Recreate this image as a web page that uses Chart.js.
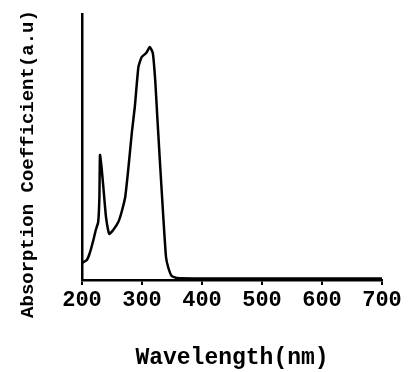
<!DOCTYPE html>
<html>
<head>
<meta charset="utf-8">
<script src="https://cdn.jsdelivr.net/npm/chart.js@4/dist/chart.umd.min.js"></script>
<style>
html,body{margin:0;padding:0;background:#fff;}
#wrap{width:411px;height:372px;position:relative;}
</style>
</head>
<body>
<div id="wrap"><canvas id="c" width="411" height="372"></canvas></div>
<script>
const wavelengths = [200, 208, 213, 219, 223, 227, 229, 230, 233, 236, 240, 245.5, 252, 260.5, 266, 272, 277, 283, 288, 294, 299.5, 307, 313, 318, 322, 325.5, 330, 335.5, 340, 344, 349.5, 358, 400, 500, 600, 700];
const absorption = [17, 20, 27, 40, 50, 58, 83, 125, 110, 90, 63, 46, 50, 58, 68, 83, 110, 147, 173, 213, 223, 227, 233, 227, 200, 163, 117, 63, 23, 12, 4, 2, 1.5, 1.5, 1.5, 1.5];
const xTicks = [200, 300, 400, 500, 600, 700];
const xTitle = 'Wavelength(nm)';
const yTitle = 'Absorption Coefficient(a.u)';

const FONT = "'Liberation Mono', 'DejaVu Sans Mono', monospace";

const yTitlePlugin = {
  id: 'yTitle',
  afterDraw(chart) {
    const ctx = chart.ctx;
    ctx.save();
    ctx.translate(28, 164);
    ctx.rotate(-Math.PI / 2);
    ctx.font = "bold 19px " + FONT;
    ctx.fillStyle = '#000';
    ctx.textAlign = 'center';
    ctx.textBaseline = 'middle';
    ctx.fillText(yTitle, 0, 0);
    ctx.restore();
  }
};

new Chart(document.getElementById('c'), {
  type: 'line',
  data: {
    datasets: [{
      data: wavelengths.map((w, i) => ({x: w, y: absorption[i]})),
      borderColor: '#000',
      borderWidth: 2.5,
      pointRadius: 0,
      tension: 0.15,
      fill: false
    }]
  },
  options: {
    responsive: false,
    animation: false,
    devicePixelRatio: 1,
    layout: {padding: {top: 14, right: 29, left: 0, bottom: 0}},
    plugins: {legend: {display: false}, tooltip: {enabled: false}},
    scales: {
      x: {
        type: 'linear',
        min: 200, max: 700,
        afterBuildTicks(scale) { scale.ticks = xTicks.map(v => ({value: v})); },
        afterFit(scale) { scale.height = 92; },
        border: {color: '#000', width: 2.5},
        grid: {drawOnChartArea: false, color: '#000', lineWidth: 2, tickLength: 5},
        ticks: {color: '#000', font: {family: FONT, size: 22, weight: 'bold'}, padding: 2, maxRotation: 0},
        title: {display: true, text: xTitle, color: '#000', font: {family: FONT, size: 23, weight: 'bold'}, padding: {top: 22, bottom: 0}}
      },
      y: {
        min: 0, max: 266,
        afterFit(scale) { scale.width = 82; },
        border: {color: '#000', width: 2.5},
        grid: {display: false},
        ticks: {display: false}
      }
    }
  },
  plugins: [yTitlePlugin]
});
</script>
</body>
</html>
